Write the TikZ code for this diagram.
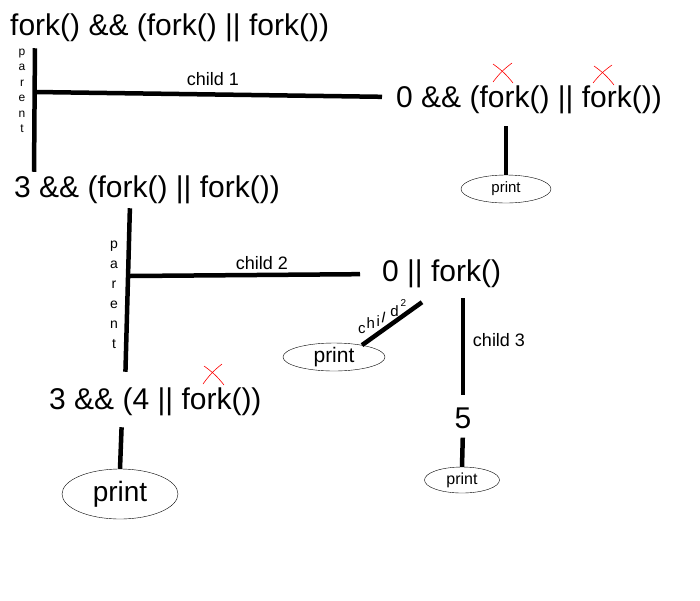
\documentclass[tikz,border=0pt]{standalone}
\usepackage{fontspec}
\setmainfont{Liberation Sans}
\usetikzlibrary{shapes.geometric}
\begin{document}
\begin{tikzpicture}[x=1pt, y=-1pt,
    expr/.style={inner sep=0pt, font=\fontsize{30}{34}\selectfont},
    branch/.style={inner sep=0pt, font=\fontsize{18}{20}\selectfont},
    printnode/.style={ellipse, draw, thin, inner sep=0pt},
    stem/.style={line width=4.5pt},
    cross/.style={red, line width=0.6pt}
]
    \useasboundingbox (0,0) rectangle (700,600);

    % Expressions
    \node[expr, anchor=west] (top) at (10,28) {fork() \&\& (fork() || fork())};
    \node[expr, anchor=west] (zero1) at (396,100) {0 \&\& (fork() || fork())};
    \node[expr, anchor=west] (three1) at (14,190) {3 \&\& (fork() || fork())};
    \node[expr, anchor=west] (zero2) at (382,274) {0 || fork()};
    \node[expr, anchor=west] (three2) at (49,402) {3 \&\& (4 || fork())};
    \node[expr] (five) at (463,418) {5};

    % Print ellipses
    \node[printnode, minimum width=90pt, minimum height=28pt, font=\fontsize{15}{17}\selectfont] (p1) at (506,189) {print};
    \node[printnode, minimum width=102pt, minimum height=28pt, font=\fontsize{21}{24}\selectfont] (p2) at (334,357) {print};
    \node[printnode, minimum width=75pt, minimum height=26pt, font=\fontsize{16}{18}\selectfont] (p3) at (462,480) {print};
    \node[printnode, minimum width=116pt, minimum height=50pt, font=\fontsize{28}{30}\selectfont] (p4) at (120,494) {print};

    % Fork points
    \coordinate (j1) at (35,92);
    \coordinate (j2) at (130,276);

    % Parent / child lines
    \draw[stem, shorten <=6pt, shorten >=4pt] (j1 |- top.south) -- ([xshift=-1pt]j1 |- three1.north);
    \draw[stem, shorten >=14pt] (j1) -- ([yshift=3pt]zero1.west);
    \draw[stem, shorten <=4pt, shorten >=16pt] (j2 |- three1.south) -- ([xshift=-5pt]j2 |- three2.north);
    \draw[stem, shorten >=22pt] (j2) -- (zero2.west);
    \draw[stem, shorten <=12pt] (p1.north |- zero1.south) -- (p1.north);
    \draw[stem] ([shift={(40pt,-14pt)}]zero2.south west) -- (p2.23);
    \draw[stem, shorten <=10pt, shorten >=12pt] (five.north |- zero2.south) -- (five.north);
    \draw[stem, shorten <=9pt] (five.south) -- (p3.north);
    \draw[stem, shorten <=11pt] ([xshift=2pt]p4.north |- three2.south) -- (p4.north);

    % Line labels
    \node[branch] (c1) at (213,79) {child 1};
    \node[branch] (c2) at (262,263) {child 2};
    \node[branch] (c3) at (499,340) {child 3};
    \node[inner sep=0pt, anchor=base west, font=\fontsize{15}{17}\selectfont] (c2b) at (358,333)
        {c\hspace{1pt}\raisebox{5pt}{h}\hspace{1.5pt}\raisebox{7pt}{i}\hspace{1pt}\raisebox{11pt}{\rotatebox{-12}{l}}\hspace{4pt}\raisebox{17pt}{d}\hspace{2pt}\raisebox{27pt}{\fontsize{10}{10}\selectfont 2}};
    \node[inner sep=0pt, align=center, font=\fontsize{12}{15.5}\selectfont] (par1) at (22,91) {p\\a\\r\\e\\n\\t};
    \node[inner sep=0pt, align=center, font=\fontsize{14}{20}\selectfont] (par2) at (114,295) {p\\a\\r\\e\\n\\t};

    % Red crosses
    \draw[cross] (493,64) to[bend left=8] (513,83);
    \draw[cross] (512,63) to[bend right=8] (493,82);
    \draw[cross] (594,66) to[bend left=8] (614,85);
    \draw[cross] (612,65) to[bend right=8] (593,83);
    \draw[cross] (204,366) to[bend left=8] (224,385);
    \draw[cross] (222,364) to[bend right=8] (203,384);
\end{tikzpicture}
\end{document}
